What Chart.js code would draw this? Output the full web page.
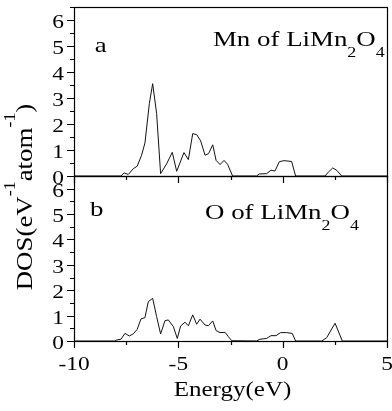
<!DOCTYPE html>
<html>
<head>
<meta charset="utf-8">
<script src="https://cdn.jsdelivr.net/npm/chart.js@4.4.0/dist/chart.umd.min.js"></script>
<style>
  html, body { margin: 0; padding: 0; background: #fff; }
</style>
</head>
<body>
<canvas id="dos-chart" width="392" height="411"></canvas>
<script>
// Mn partial DOS of LiMn2O4 (energy in eV, DOS in eV^-1 atom^-1)
const mnEnergy = [-10, -7.75, -7.6, -7.4, -7.16, -6.97, -6.76, -6.6, -6.39, -6.23, -6.04, -5.85, -5.56, -5.29, -5.08,
  -4.73, -4.52, -4.31, -4.12, -3.93, -3.72, -3.55, -3.35, -3.19, -3.0, -2.81, -2.64, -2.4, -1.25, -1.12, -0.77,
  -0.56, -0.37, -0.16, 0.06, 0.43, 0.62, 2.03, 2.19, 2.4, 2.59, 2.83, 5];
const mnDos = [0, 0, 0.12, 0.06, 0.28, 0.38, 0.8, 1.27, 2.78, 3.55, 2.4, 0.09, 0.47, 0.91, 0.18,
  0.9, 0.63, 1.63, 1.59, 1.35, 0.8, 0.86, 1.2, 0.6, 0.44, 0.6, 0.45, 0, 0, 0.08, 0.09,
  0.22, 0.19, 0.55, 0.59, 0.56, 0, 0, 0.15, 0.31, 0.22, 0, 0];

// O partial DOS of LiMn2O4
const oEnergy = [-10, -8.04, -7.95, -7.75, -7.56, -7.35, -7.16, -6.97, -6.79, -6.6, -6.44, -6.23, -6.04, -5.85,
  -5.64, -5.48, -5.24, -5.05, -4.89, -4.68, -4.52, -4.31, -4.12, -3.96, -3.72, -3.56, -3.35, -3.19, -3.0,
  -2.76, -2.6, -2.44, -1.25, -1.09, -0.77, -0.56, -0.32, -0.1, 0.19, 0.46, 0.62, 1.87, 2.11, 2.51, 2.86, 5];
const oDos = [0, 0, 0.04, 0.07, 0.3, 0.2, 0.28, 0.46, 0.87, 0.92, 1.55, 1.68, 0.96, 0.28,
  0.8, 0.83, 0.57, 0.1, 0.59, 0.74, 0.6, 1.03, 0.66, 0.86, 0.63, 0.6, 0.79, 0.41, 0.33,
  0.34, 0.17, 0.01, 0, 0.07, 0.1, 0.21, 0.21, 0.33, 0.33, 0.3, 0, 0, 0.13, 0.7, 0, 0];

// tick labels
const xTickLabels = [-10, -5, 0, 5];
const yTickLabels = [0, 1, 2, 3, 4, 5, 6];

const serif = '"Liberation Serif", "Times New Roman", serif';

function toPoints(xs, ys) {
  return xs.map((x, i) => ({ x: x, y: ys[i] }));
}

// draws text with sub/superscripts, stretched along its own direction
function richText(ctx, parts, x, y, opt) {
  const size = opt.size, sx = opt.sx || 1, align = opt.align || 'left';
  const fontFor = p => ((p.sub || p.sup) ? Math.round(size * 0.68) : size) + 'px ' + serif;
  ctx.save();
  ctx.translate(x, y);
  if (opt.rotate) ctx.rotate(opt.rotate);
  ctx.scale(sx, 1);
  ctx.fillStyle = '#000';
  ctx.textBaseline = 'alphabetic';
  ctx.textAlign = 'left';
  let total = 0;
  parts.forEach(p => { ctx.font = fontFor(p); total += ctx.measureText(p.t).width; });
  let cx = align === 'center' ? -total / 2 : (align === 'right' ? -total : 0);
  parts.forEach(p => {
    ctx.font = fontFor(p);
    const dy = p.sub ? size * 0.52 : (p.sup ? -size * 0.72 : 0);
    ctx.fillText(p.t, cx, dy);
    cx += ctx.measureText(p.t).width;
  });
  ctx.restore();
}

// frame, outward ticks and all the text
const framePlugin = {
  id: 'frame',
  afterDraw(chart) {
    const ctx = chart.ctx;
    const area = chart.chartArea;
    const x = chart.scales.x;
    const panels = [chart.scales.yMn, chart.scales.yO];

    ctx.save();
    ctx.strokeStyle = '#000';
    ctx.lineWidth = 1.2;
    panels.forEach(s => {
      ctx.strokeRect(Math.round(area.left) + 0.5, Math.round(s.top) + 0.5,
        Math.round(area.right - area.left), Math.round(s.bottom - s.top));
      ctx.beginPath();
      s.ticks.forEach(t => {
        const py = Math.round(s.getPixelForValue(t.value)) + 0.5;
        const len = Number.isInteger(t.value) ? 7 : 4;
        ctx.moveTo(area.left, py);
        ctx.lineTo(area.left - len, py);
      });
      x.ticks.forEach(t => {
        const px = Math.round(x.getPixelForValue(t.value)) + 0.5;
        const len = t.value % 5 === 0 ? 7 : 4;
        ctx.moveTo(px, s.bottom);
        ctx.lineTo(px, s.bottom + len);
      });
      ctx.stroke();
      yTickLabels.forEach(v => {
        richText(ctx, [{ t: String(v) }], area.left - 10, s.getPixelForValue(v) + 8, { size: 18, sx: 1.3, align: 'right' });
      });
    });
    ctx.restore();

    const yO = chart.scales.yO, yMn = chart.scales.yMn;
    xTickLabels.forEach(v => {
      richText(ctx, [{ t: String(v) }], x.getPixelForValue(v), yO.bottom + 29, { size: 18, sx: 1.3, align: 'center' });
    });
    richText(ctx, [{ t: 'Energy(eV)' }], (area.left + area.right) / 2 + 2, yO.bottom + 55, { size: 20, sx: 1.25, align: 'center' });
    richText(ctx, [{ t: 'DOS(eV' }, { t: '-1', sup: true }, { t: 'atom' }, { t: '-1', sup: true }, { t: ')' }],
      32, (yMn.top + yO.bottom) / 2 + 23, { size: 24, sx: 1.12, align: 'center', rotate: -Math.PI / 2 });

    richText(ctx, [{ t: 'a' }], x.getPixelForValue(-9), yMn.getPixelForValue(4.78), { size: 21, sx: 1.28 });
    richText(ctx, [{ t: 'Mn of LiMn' }, { t: '2', sub: true }, { t: 'O' }, { t: '4', sub: true }],
      x.getPixelForValue(-3.34), yMn.getPixelForValue(5.01), { size: 21, sx: 1.28 });
    richText(ctx, [{ t: 'b' }], x.getPixelForValue(-9.23), yO.getPixelForValue(4.91), { size: 21, sx: 1.28 });
    richText(ctx, [{ t: 'O of LiMn' }, { t: '2', sub: true }, { t: 'O' }, { t: '4', sub: true }],
      x.getPixelForValue(-3.72), yO.getPixelForValue(4.81), { size: 21, sx: 1.28 });
  }
};

const panelAxis = {
  type: 'linear',
  position: 'left',
  stack: 'dos',
  min: 0,
  max: 6.5,
  ticks: { stepSize: 0.5, display: false },
  grid: { display: false },
  border: { display: false },
  afterFit: s => { s.width = 74; }
};

const ctx = document.getElementById('dos-chart');

new Chart(ctx, {
  type: 'line',
  data: {
    datasets: [
      { label: 'O of LiMn2O4', data: toPoints(oEnergy, oDos), yAxisID: 'yO' },
      { label: 'Mn of LiMn2O4', data: toPoints(mnEnergy, mnDos), yAxisID: 'yMn' }
    ]
  },
  options: {
    responsive: false,
    animation: false,
    layout: { padding: { top: 7, right: 5, left: 0, bottom: 0 } },
    plugins: { legend: { display: false }, tooltip: { enabled: false } },
    elements: {
      point: { radius: 0 },
      line: { tension: 0, borderWidth: 1, borderColor: '#111' }
    },
    scales: {
      x: {
        type: 'linear',
        min: -10,
        max: 5,
        ticks: { stepSize: 2.5, display: false },
        grid: { display: false },
        border: { display: false },
        afterFit: s => { s.height = 70; }
      },
      yO: Object.assign({}, panelAxis, { stackWeight: 165 }),
      yMn: Object.assign({}, panelAxis, { stackWeight: 169 })
    }
  },
  plugins: [framePlugin]
});
</script>
</body>
</html>
